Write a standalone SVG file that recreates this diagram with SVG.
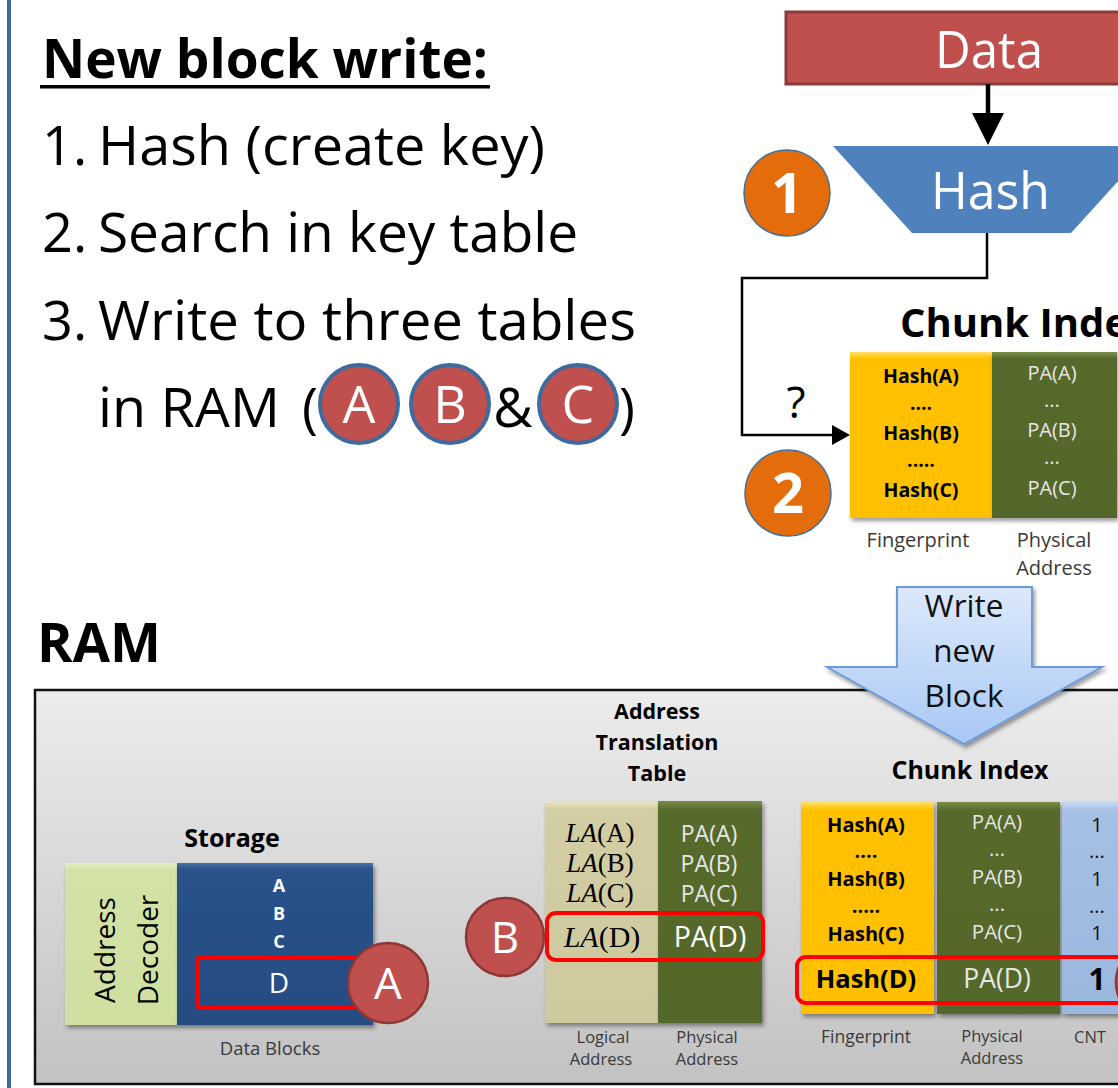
<svg xmlns="http://www.w3.org/2000/svg" width="1118" height="1088" viewBox="0 0 1118 1088">
  <defs>
    <style>
      svg { font-family: "Open Sans", "Liberation Sans", sans-serif; }
      .b { font-weight: bold; }
      .w { fill: #fff; }
      .pa { fill: #e6e6e6; text-anchor: middle; }
      .mid { text-anchor: middle; }
      .lbl { fill: #3a3a3a; text-anchor: middle; }
      .math { font-family: "Liberation Serif", "Times New Roman", serif; }
      .hl { fill: none; stroke: #ff0000; stroke-width: 4; }
      .redc { fill: #c0504d; stroke: #8c3836; stroke-width: 2.5; }
      .keyc { fill: #c0504d; stroke: #3f6a9e; stroke-width: 4; }
      .orc { fill: #e46c0a; stroke: #41719c; stroke-width: 1.5; }
      .wire { fill: none; stroke: #000; }
    </style>
    <linearGradient id="ramBg" x1="0" y1="0" x2="0" y2="1">
      <stop offset="0" stop-color="#ececec"/>
      <stop offset="1" stop-color="#c2c2c2"/>
    </linearGradient>
    <linearGradient id="arrowFill" x1="0" y1="0" x2="0" y2="1">
      <stop offset="0" stop-color="#dce9fb"/>
      <stop offset="1" stop-color="#a9c8f5"/>
    </linearGradient>
    <linearGradient id="yel" x1="0" y1="0" x2="0" y2="1">
      <stop offset="0" stop-color="#ffe066"/>
      <stop offset="0.04" stop-color="#ffc000"/>
      <stop offset="1" stop-color="#ffc000"/>
    </linearGradient>
    <linearGradient id="olv" x1="0" y1="0" x2="0" y2="1">
      <stop offset="0" stop-color="#7a8f4c"/>
      <stop offset="0.04" stop-color="#566a2d"/>
      <stop offset="1" stop-color="#536729"/>
    </linearGradient>
    <linearGradient id="blu" x1="0" y1="0" x2="0" y2="1">
      <stop offset="0" stop-color="#c5d8f0"/>
      <stop offset="0.04" stop-color="#a5c0e4"/>
      <stop offset="1" stop-color="#9ab7de"/>
    </linearGradient>
    <linearGradient id="tan" x1="0" y1="0" x2="0" y2="1">
      <stop offset="0" stop-color="#ebe6c4"/>
      <stop offset="0.04" stop-color="#d3cda4"/>
      <stop offset="1" stop-color="#cfc99e"/>
    </linearGradient>
    <linearGradient id="lgreen" x1="0" y1="0" x2="0" y2="1">
      <stop offset="0" stop-color="#e6f0c4"/>
      <stop offset="0.04" stop-color="#d3e2a6"/>
      <stop offset="1" stop-color="#cfdfa0"/>
    </linearGradient>
    <linearGradient id="dblue" x1="0" y1="0" x2="0" y2="1">
      <stop offset="0" stop-color="#4a6fa3"/>
      <stop offset="0.04" stop-color="#29528a"/>
      <stop offset="1" stop-color="#254c82"/>
    </linearGradient>
    <filter id="shadow" x="-10%" y="-10%" width="130%" height="130%">
      <feDropShadow dx="2" dy="3" stdDeviation="2" flood-color="#000" flood-opacity="0.4"/>
    </filter>
    <marker id="headBig" markerUnits="userSpaceOnUse" markerWidth="32" markerHeight="32" refX="5" refY="16" orient="auto">
      <path d="M0,0 L32,16 L0,32 z" fill="#000"/>
    </marker>
    <marker id="headSmall" markerUnits="userSpaceOnUse" markerWidth="18" markerHeight="20" refX="4" refY="10" orient="auto">
      <path d="M0,0 L18,10 L0,20 z" fill="#000"/>
    </marker>
  </defs>

  <rect x="0" y="0" width="1118" height="1088" fill="#fff"/>
  <!-- left margin rule -->
  <rect x="7" y="0" width="4" height="1088" fill="#40689c"/>

  <!-- step list -->
  <g id="steps">
    <text class="b" x="42" y="78" font-size="53" textLength="446" lengthAdjust="spacingAndGlyphs">New block write:</text>
    <rect x="40" y="85" width="450" height="3.5" fill="#000"/>
    <text x="42" y="165" font-size="54">1.</text>
    <text x="98" y="165" font-size="54" textLength="447" lengthAdjust="spacingAndGlyphs">Hash (create key)</text>
    <text x="42" y="252" font-size="54">2.</text>
    <text x="98" y="252" font-size="54" textLength="480" lengthAdjust="spacingAndGlyphs">Search in key table</text>
    <text x="42" y="340" font-size="54">3.</text>
    <text x="98" y="340" font-size="54" textLength="538" lengthAdjust="spacingAndGlyphs">Write to three tables</text>
    <text x="98" y="427" font-size="54" textLength="182" lengthAdjust="spacingAndGlyphs">in RAM</text>
    <text x="302" y="427" font-size="54">(</text>
    <circle class="keyc" cx="359" cy="404" r="39"/>
    <text class="w mid" x="359" y="423" font-size="52">A</text>
    <circle class="keyc" cx="450" cy="404" r="39"/>
    <text class="w mid" x="450" y="423" font-size="52">B</text>
    <text class="mid" x="513" y="427" font-size="54">&amp;</text>
    <circle class="keyc" cx="578" cy="404" r="39"/>
    <text class="w mid" x="578" y="423" font-size="52">C</text>
    <text x="619" y="427" font-size="54">)</text>
  </g>

  <!-- input data -->
  <g id="data">
    <rect x="786" y="12" width="420" height="72" fill="#c0504d" stroke="#8c3a38" stroke-width="3"/>
    <text class="w" x="935" y="68" font-size="52" textLength="108" lengthAdjust="spacingAndGlyphs">Data</text>
  </g>

  <!-- hash function -->
  <g id="hash">
    <polygon points="833,146 1150,146 1071,233 912,233" fill="#4f81bd"/>
    <text class="w" x="931" y="209" font-size="52" textLength="119" lengthAdjust="spacingAndGlyphs">Hash</text>
  </g>

  <g id="step1">
    <circle class="orc" cx="787" cy="193" r="43"/>
    <text class="w b mid" x="787" y="213" font-size="56">1</text>
  </g>

  <g id="step2">
    <circle class="orc" cx="788" cy="493" r="43"/>
    <text class="w b mid" x="788" y="513" font-size="56">2</text>
  </g>

  <!-- chunk index lookup -->
  <g id="lookup-index">
    <text class="b" x="900" y="337" font-size="40">Chunk Index</text>
    <rect x="850" y="352" width="142" height="166" fill="url(#yel)" filter="url(#shadow)"/>
    <rect x="992" y="352" width="125" height="166" fill="url(#olv)" filter="url(#shadow)"/>
    <rect x="1117" y="352" width="60" height="166" fill="url(#blu)"/>
    <g class="b mid" font-size="19.5">
      <text x="921" y="383">Hash(A)</text>
      <text x="921" y="410">....</text>
      <text x="921" y="440">Hash(B)</text>
      <text x="921" y="467">.....</text>
      <text x="921" y="497">Hash(C)</text>
    </g>
    <g class="pa" font-size="20">
      <text x="1052" y="380">PA(A)</text>
      <text x="1052" y="407">...</text>
      <text x="1052" y="437">PA(B)</text>
      <text x="1052" y="464">...</text>
      <text x="1052" y="495">PA(C)</text>
    </g>
    <text class="lbl" x="918" y="547" font-size="20">Fingerprint</text>
    <text class="lbl" x="1054" y="547" font-size="20">Physical</text>
    <text class="lbl" x="1054" y="575" font-size="20">Address</text>
  </g>

  <!-- RAM -->
  <g id="ram">
    <text class="b" x="37" y="662" font-size="54">RAM</text>
    <rect x="35" y="690" width="1110" height="394" fill="url(#ramBg)" stroke="#111" stroke-width="2.5"/>
  </g>

  <g id="write-new-block">
    <polygon points="897,587 1032,587 1032,667 1102,667 964,744 827,667 897,667" fill="url(#arrowFill)" stroke="#6e9ad6" stroke-width="2" filter="url(#shadow)"/>
    <g class="mid" font-size="31.5" fill="#111">
      <text x="964" y="617">Write</text>
      <text x="964" y="662">new</text>
      <text x="964" y="707">Block</text>
    </g>
  </g>

  <!-- storage -->
  <g id="storage">
    <text class="b mid" x="232" y="847" font-size="25">Storage</text>
    <rect x="65" y="863" width="112" height="162" fill="url(#lgreen)" filter="url(#shadow)"/>
    <rect x="177" y="863" width="196" height="162" fill="url(#dblue)" filter="url(#shadow)"/>
    <g transform="translate(121,950) rotate(-90)" font-size="28" text-anchor="middle">
      <text x="0" y="-6">Address</text>
      <text x="0" y="37">Decoder</text>
    </g>
    <g class="w b mid" font-size="18">
      <text x="279" y="892">A</text>
      <text x="279" y="920">B</text>
      <text x="279" y="948">C</text>
    </g>
    <text class="w mid" x="279" y="993" font-size="28">D</text>
    <rect class="hl" x="198" y="957" width="157" height="51" rx="2"/>
    <text class="lbl" x="270" y="1055" font-size="18.5">Data Blocks</text>
  </g>

  <g id="mark-a">
    <circle class="redc" cx="388" cy="983" r="40"/>
    <text class="w mid" x="388" y="999" font-size="44">A</text>
  </g>

  <!-- address translation table -->
  <g id="address-table">
    <g class="b mid" font-size="21.5">
      <text x="657" y="719">Address</text>
      <text x="657" y="750">Translation</text>
      <text x="657" y="781">Table</text>
    </g>
    <rect x="545" y="801" width="113" height="222" fill="url(#tan)" filter="url(#shadow)"/>
    <rect x="658" y="801" width="104" height="222" fill="url(#olv)" filter="url(#shadow)"/>
    <g class="math mid" font-size="27">
      <text x="600" y="842"><tspan font-style="italic">LA</tspan>(A)</text>
      <text x="600" y="872"><tspan font-style="italic">LA</tspan>(B)</text>
      <text x="600" y="902"><tspan font-style="italic">LA</tspan>(C)</text>
    </g>
    <text class="math mid" x="602" y="947" font-size="30"><tspan font-style="italic">LA</tspan>(D)</text>
    <g class="pa" font-size="23">
      <text x="709" y="842">PA(A)</text>
      <text x="709" y="872">PA(B)</text>
      <text x="709" y="902">PA(C)</text>
    </g>
    <text class="w mid" x="710" y="947" font-size="28.5">PA(D)</text>
    <rect class="hl" x="547" y="913" width="216" height="47" rx="9"/>
    <text class="lbl" x="603" y="1043" font-size="16.5">Logical</text>
    <text class="lbl" x="601" y="1065" font-size="16.5">Address</text>
    <text class="lbl" x="707" y="1043" font-size="16.5">Physical</text>
    <text class="lbl" x="707" y="1065" font-size="16.5">Address</text>
  </g>

  <g id="mark-b">
    <circle class="redc" cx="505" cy="937" r="39"/>
    <text class="w mid" x="505" y="953" font-size="44">B</text>
  </g>

  <!-- chunk index in RAM -->
  <g id="chunk-index">
    <text class="b mid" x="970" y="779" font-size="25">Chunk Index</text>
    <rect x="801" y="802" width="133" height="212" fill="url(#yel)" filter="url(#shadow)"/>
    <rect x="937" y="802" width="123" height="212" fill="url(#olv)" filter="url(#shadow)"/>
    <rect x="1062" y="802" width="100" height="212" fill="url(#blu)" filter="url(#shadow)"/>
    <g class="b mid" font-size="20">
      <text x="866" y="832">Hash(A)</text>
      <text x="866" y="858">....</text>
      <text x="866" y="886">Hash(B)</text>
      <text x="866" y="913">.....</text>
      <text x="866" y="941">Hash(C)</text>
    </g>
    <text class="b mid" x="866" y="988" font-size="25.5">Hash(D)</text>
    <g class="pa" font-size="20.5">
      <text x="997" y="829">PA(A)</text>
      <text x="997" y="856">...</text>
      <text x="997" y="884">PA(B)</text>
      <text x="997" y="911">...</text>
      <text x="997" y="939">PA(C)</text>
    </g>
    <text class="pa" x="997" y="988" font-size="26.5">PA(D)</text>
    <g class="mid" font-size="20" fill="#111">
      <text x="1097" y="832">1</text>
      <text x="1097" y="858">...</text>
      <text x="1097" y="886">1</text>
      <text x="1097" y="913">...</text>
      <text x="1097" y="940">1</text>
    </g>
    <text class="b mid" x="1097" y="990" font-size="30">1</text>
    <rect class="hl" x="797" y="957" width="360" height="46" rx="9"/>
    <text class="lbl" x="866" y="1043" font-size="17.5">Fingerprint</text>
    <text class="lbl" x="992" y="1042" font-size="16.5">Physical</text>
    <text class="lbl" x="992" y="1064" font-size="16.5">Address</text>
    <text class="lbl" x="1090" y="1043" font-size="16.5">CNT</text>
  </g>

  <g id="mark-c">
    <circle class="redc" cx="1156" cy="982" r="40"/>
  </g>

  <!-- connectors -->
  <g id="connectors">
    <path class="wire" d="M988,84 V118" stroke-width="4.5" marker-end="url(#headBig)"/>
    <path class="wire" d="M987,233 V278 H742 V435 H836" stroke-width="2.5" marker-end="url(#headSmall)"/>
    <text class="mid" x="796" y="418" font-size="44">?</text>
  </g>
</svg>
